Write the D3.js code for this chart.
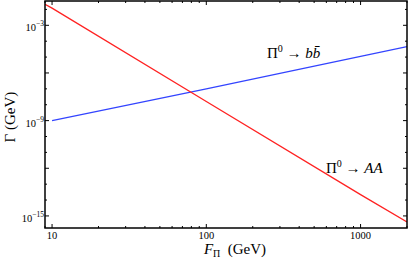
<!DOCTYPE html>
<html>
<head>
<meta charset="utf-8">
<script src="https://cdn.jsdelivr.net/npm/d3@7"></script>
<style>
  body { margin: 0; background: white; }
  text { font-family: "Liberation Serif", "DejaVu Serif", serif; fill: black; }
</style>
</head>
<body>
<div id="container"></div>
<script>
// values
let fPi = [9, 10, 100, 1000, 2000];
let gammaBB = [null, 1e-9, 1.0e-7, 1.1e-5, 4.5e-5];
let gammaAA = [2.1e-2, 1.2e-2, 1.6e-8, 2.2e-14, 4.2e-16];
let xTicks = [10, 100, 1000];
let yTicks = [1e-3, 1e-6, 1e-9, 1e-12, 1e-15];
let yLabels = [1e-3, 1e-9, 1e-15];
let yLabelExp = [-3, -9, -15];

let width = 415, height = 259;
let margin = { left: 45, right: 8, top: 1, bottom: 31 };

let viz = d3.select('#container')
    .append('svg')
    .attr('width', width)
    .attr('height', height)
    ;

let x = d3.scaleLog()
    .domain([9, 2000])
    .range([margin.left, width - margin.right]);

let y = d3.scaleLog()
    .domain([Math.pow(10, -15.76), Math.pow(10, -1.47)])
    .range([height - margin.bottom, margin.top]);

let x0 = x.range()[0], x1 = x.range()[1];
let y0 = y.range()[0], y1 = y.range()[1];

// clip for the curves
viz.append('clipPath').attr('id', 'plotclip')
    .append('rect')
    .attr('x', x0).attr('y', y1)
    .attr('width', x1 - x0).attr('height', y0 - y1);

let line = d3.line()
    .defined(d => d[1] != null)
    .x(d => x(d[0]))
    .y(d => y(d[1]));

viz.append('path')
    .datum(fPi.map((f, i) => [f, gammaBB[i]]))
    .attr('d', line)
    .attr('fill', 'none')
    .attr('stroke', '#3344ff')
    .attr('stroke-width', 1.3)
    .attr('clip-path', 'url(#plotclip)');

viz.append('path')
    .datum(fPi.map((f, i) => [f, gammaAA[i]]))
    .attr('d', line)
    .attr('fill', 'none')
    .attr('stroke', '#ff2222')
    .attr('stroke-width', 1.3)
    .attr('clip-path', 'url(#plotclip)');

// minor x ticks (2..9 in each decade)
let xMinor = [];
[1, 10, 100, 1000].forEach(function (dec) {
    for (let k = 1; k < 10; k++) {
        let v = dec * k;
        if (v >= 9 && v <= 2000 && xTicks.indexOf(v) < 0) xMinor.push(v);
    }
});

// y minor ticks at each decade
let yMinor = d3.range(-15, -1)
    .map(e => Math.pow(10, e))
    .filter(v => !yTicks.some(t => Math.abs(Math.log10(t) - Math.log10(v)) < 0.01));

let ticks = viz.append('g').attr('stroke', 'black').attr('stroke-width', 1);

xTicks.forEach(function (v) {
    ticks.append('line').attr('x1', x(v)).attr('x2', x(v)).attr('y1', y0).attr('y2', y0 - 4);
    ticks.append('line').attr('x1', x(v)).attr('x2', x(v)).attr('y1', y1).attr('y2', y1 + 4);
});
xMinor.forEach(function (v) {
    ticks.append('line').attr('x1', x(v)).attr('x2', x(v)).attr('y1', y0).attr('y2', y0 - 2);
    ticks.append('line').attr('x1', x(v)).attr('x2', x(v)).attr('y1', y1).attr('y2', y1 + 2);
});
yTicks.forEach(function (v) {
    ticks.append('line').attr('x1', x0).attr('x2', x0 + 4).attr('y1', y(v)).attr('y2', y(v));
    ticks.append('line').attr('x1', x1).attr('x2', x1 - 4).attr('y1', y(v)).attr('y2', y(v));
});
yMinor.forEach(function (v) {
    ticks.append('line').attr('x1', x0).attr('x2', x0 + 2).attr('y1', y(v)).attr('y2', y(v));
    ticks.append('line').attr('x1', x1).attr('x2', x1 - 2).attr('y1', y(v)).attr('y2', y(v));
});

// frame
viz.append('rect')
    .attr('x', x0).attr('y', y1)
    .attr('width', x1 - x0).attr('height', y0 - y1)
    .attr('fill', 'none')
    .attr('stroke', 'black')
    .attr('stroke-width', 1.5);

// x tick labels
viz.selectAll('.xlab').data(xTicks).enter()
    .append('text')
    .attr('class', 'xlab')
    .attr('x', d => x(d))
    .attr('y', y0 + 11)
    .attr('text-anchor', 'middle')
    .attr('font-size', 10.5)
    .text(d => d);

// y tick labels
let ylab = viz.selectAll('.ylab').data(yLabels).enter()
    .append('text')
    .attr('class', 'ylab')
    .attr('x', x0 - 1)
    .attr('y', d => y(d) + 6)
    .attr('text-anchor', 'end')
    .attr('font-size', 10.5);
ylab.append('tspan').text('10');
ylab.append('tspan')
    .attr('dy', -5)
    .attr('font-size', 7.5)
    .text((d, i) => '\u2212' + (-yLabelExp[i]));

// axis titles
let xt = viz.append('text')
    .attr('x', 235)
    .attr('y', 254)
    .attr('text-anchor', 'middle')
    .attr('font-size', 15);
xt.append('tspan').attr('font-style', 'italic').text('F');
xt.append('tspan').attr('font-size', 10).attr('dy', 3).text('\u03A0');
xt.append('tspan').attr('dy', -3).text('\u2002(GeV)');

viz.append('text')
    .attr('transform', 'translate(15,117) rotate(-90)')
    .attr('text-anchor', 'middle')
    .attr('font-size', 15)
    .text('\u0393 (GeV)');

// curve labels
let lb = viz.append('text')
    .attr('x', 267)
    .attr('y', 58)
    .attr('font-size', 15);
lb.append('tspan').text('\u03A0');
lb.append('tspan').attr('dy', -6).attr('font-size', 10).text('0');
lb.append('tspan').attr('dy', 6).text(' \u2192 ');
lb.append('tspan').attr('font-style', 'italic').text('b');
lb.append('tspan').attr('font-style', 'italic').text('b\u0304');

let la = viz.append('text')
    .attr('x', 326)
    .attr('y', 173)
    .attr('font-size', 15);
la.append('tspan').text('\u03A0');
la.append('tspan').attr('dy', -6).attr('font-size', 10).text('0');
la.append('tspan').attr('dy', 6).text(' \u2192 ');
la.append('tspan').attr('font-style', 'italic').text('AA');
</script>
</body>
</html>
